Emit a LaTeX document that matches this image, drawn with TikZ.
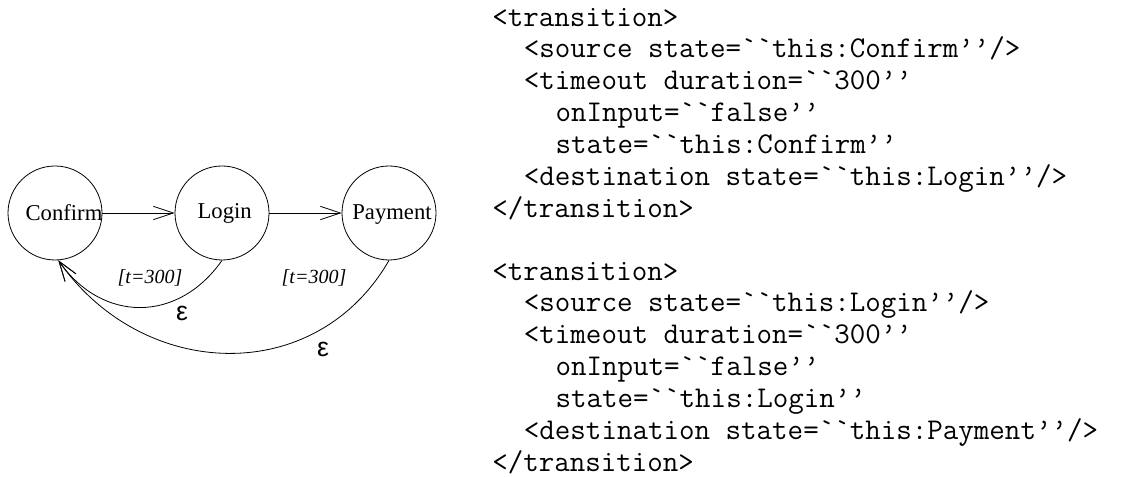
\documentclass[tikz,border=0pt]{standalone}
\usepackage{fontspec}
\setmainfont{Liberation Serif}
\newfontfamily\epsfont{Liberation Sans}
\usetikzlibrary{positioning,arrows.meta}

\tikzset{
  state/.style={draw, circle, line width=0.6pt, minimum size=70.5pt, inner sep=0pt},
  statename/.style={inner sep=0pt, font=\fontsize{17pt}{20pt}\selectfont},
  trans/.style={-{Straight Barb[length=15pt,width=10pt]}, line width=0.6pt},
  guard/.style={font=\fontsize{15pt}{18pt}\selectfont\itshape},
  eps/.style={font=\epsfont\fontsize{20pt}{22pt}\selectfont},
  xml/.style={anchor=base west, inner sep=0pt, align=left,
    font=\ttfamily\fontsize{22.6pt}{23.93pt}\selectfont}
}

\begin{document}
\begin{tikzpicture}[x=0.75pt,y=0.75pt]
  \useasboundingbox (0,0) rectangle (1123,477);

  % states
  \node[state] (confirm) at (55,264) {};
  \node[state] (login) at (222,264) {};
  \node[state] (payment) at (389,264) {};
  \node[statename] (confirmname) at ([xshift=6.75pt]confirm.center) {Confirm};
  \node[statename] (loginname) at ([xshift=2pt]login.center) {Login};
  \node[statename, yshift=-1.5pt] (paymentname) at ([xshift=2.25pt]payment.center) {Payment};

  \draw[trans] (confirm) -- (login);
  \draw[trans] (login) -- (payment);

  % timeouts
  \draw[trans] (login.south) to[out=-125,in=-55,looseness=1.2] (confirm.-86);
  \draw[trans] (payment.south) to[out=-120,in=-55,looseness=1.14] (confirm.-86);

  \node[guard] (guard1) at (150,199) {[t=300]};
  \node[guard] (guard2) at (314,199) {[t=300]};
  \node[eps] (eps1) at (182,164) {ε};
  \node[eps] (eps2) at (323,128) {ε};

  % xml (base = last line)
  \node[xml] (trans1) at (492,259.5) {<transition>\\
    \hspace*{1.05em}<source state=``this:Confirm’’/>\\
    \hspace*{1.05em}<timeout duration=``300’’\\
    \hspace*{2.1em}onInput=``false’’\\
    \hspace*{2.1em}state=``this:Confirm’’\\
    \hspace*{1.05em}<destination state=``this:Login’’/>\\
    </transition>};
  \node[xml] (trans2) at (492,5.5) {<transition>\\
    \hspace*{1.05em}<source state=``this:Login’’/>\\
    \hspace*{1.05em}<timeout duration=``300’’\\
    \hspace*{2.1em}onInput=``false’’\\
    \hspace*{2.1em}state=``this:Login’’\\
    \hspace*{1.05em}<destination state=``this:Payment’’/>\\
    </transition>};
\end{tikzpicture}
\end{document}
